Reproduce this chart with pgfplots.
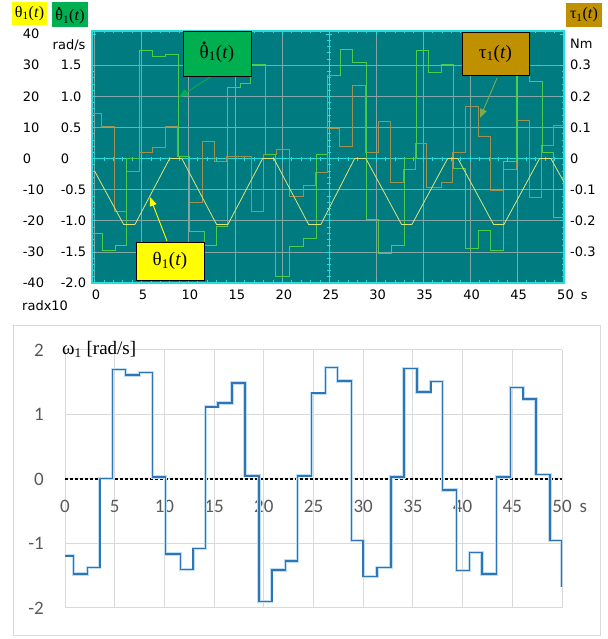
\documentclass[border=0pt]{standalone}
\usepackage{pgfplots}
\pgfplotsset{compat=1.18}
\usepackage{fontspec}
\setmainfont{DejaVu Sans}
\newfontfamily\tnr{Liberation Serif}
\newfontfamily\carl{Carlito}
\usetikzlibrary{arrows.meta}

\definecolor{scopebg}{RGB}{0,124,128}
\definecolor{scopecyan}{RGB}{40,220,220}
\definecolor{gridc}{RGB}{130,165,165}
\definecolor{thc}{RGB}{220,228,125}
\definecolor{thdc}{RGB}{75,205,75}
\definecolor{tauc}{RGB}{160,145,80}
\definecolor{hdyellow}{RGB}{255,255,0}
\definecolor{hdgreen}{RGB}{0,176,80}
\definecolor{hdtau}{RGB}{191,144,0}
\definecolor{wblue}{RGB}{46,117,182}
\definecolor{wglow}{RGB}{190,220,242}
\definecolor{lgray}{RGB}{217,217,217}
\definecolor{tgray}{RGB}{89,89,89}

\newcommand\yl[2]{\makebox[38pt][l]{#1}\makebox[29pt][l]{#2}}
\newcommand\thdot{\ooalign{θ\cr\hidewidth\raisebox{0.72em}{\scalebox{1.3}{.}}\hidewidth\cr}}
\newcommand\thl{θ\textsubscript{1}(\textit{t})}
\newcommand\thdl{\thdot\textsubscript{1}(\textit{t})}
\newcommand\taul{τ\textsubscript{1}(\textit{t})}

\pgfplotstableread{
t v
0 -0.20
3.1 -1.06
4.3 -1.06
8.0 0
9.3 0
13.0 -1.06
14.2 -1.06
17.9 0
19.1 0
22.8 -1.06
24.1 -1.06
27.7 0
28.9 0
32.7 -1.06
33.8 -1.06
37.6 0
38.7 0
42.5 -1.06
43.6 -1.06
47.4 0
48.6 0
50 -0.38
}\thetatab

\pgfplotstableread{
t v
-0.3 -1.20
0.87 -1.47
2.18 -1.39
3.42 0.0
4.77 1.74
6.15 1.64
7.6 1.67
8.9 0.04
10.16 -1.17
11.75 -1.40
12.96 -1.09
14.2 1.14
15.5 1.20
16.6 1.51
18.2 0.06
19.3 -1.89
20.8 -1.41
22.2 -1.28
23.6 0.06
24.8 1.34
26.2 1.76
27.5 1.54
29.0 -0.98
30.2 -1.53
31.6 -1.39
33.0 0.0
34.3 1.74
35.6 1.38
36.9 1.52
38.2 -0.16
39.5 -1.44
40.9 -1.15
42.2 -1.47
43.6 -0.05
44.9 1.39
46.3 1.24
47.7 0.09
48.9 -0.95
50 -0.95
}\thdtab

\pgfplotstableread{
t v
-0.3 0.73
0.76 0.52
2.07 -0.85
3.42 -0.21
4.77 0.09
6.19 0.18
7.5 0.51
8.8 0.04
10.16 -0.70
11.5 0.28
12.8 -0.04
14.1 0.03
16.7 -0.85
18.0 0.06
19.4 0.14
20.8 -0.61
22.2 -0.44
23.5 -0.22
24.8 0.48
26.1 0.20
27.5 1.17
28.9 0.10
30.2 0.59
31.5 -0.39
32.9 -0.18
34.2 0.25
35.4 -0.47
36.9 -0.39
38.1 0.09
39.5 0.83
40.9 0.35
42.2 -0.51
43.6 -0.17
44.9 0.62
46.3 -0.62
47.6 0.21
48.9 0.53
50 0.53
}\tautab

\pgfplotstableread{
t v
0 -1.19
0.84 -1.47
2.25 -1.37
3.5 0.01
4.8 1.70
6.1 1.61
7.5 1.65
8.8 0.03
10.1 -1.16
11.6 -1.40
12.9 -1.08
14.15 1.12
15.4 1.18
16.8 1.49
18.1 0.05
19.5 -1.90
20.8 -1.41
22.2 -1.27
23.4 0.05
24.8 1.33
26.2 1.73
27.4 1.52
28.8 -0.95
30.0 -1.51
31.4 -1.37
32.8 0.03
34.1 1.71
35.4 1.35
36.8 1.51
38.0 -0.17
39.4 -1.42
40.7 -1.14
41.95 -1.47
43.4 0.03
44.8 1.42
46.1 1.24
47.4 0.07
48.8 -0.95
50.0 -1.67
}\omegatab

\begin{document}
\begin{tikzpicture}[x=1pt,y=1pt]
\path[use as bounding box] (0,0) rectangle (607,639);

% ---------- top scope: background, grid, border, left and bottom labels
\begin{axis}[
  at={(92pt,356pt)}, anchor=south west, scale only axis,
  width=472pt, height=252pt,
  xmin=-0.27, xmax=50, ymin=-2, ymax=2.05,
  axis background/.style={fill=scopebg},
  axis line style={scopecyan, line width=1.6pt},
  xtick pos=both, ytick pos=both,
  xticklabel pos=lower, yticklabel pos=left,
  xtick={0,5,...,50}, minor x tick num=4,
  ytick={-2,-1.5,...,1.5}, minor y tick num=4,
  extra y ticks={2}, extra y tick style={grid=none},
  extra y tick labels={\yl{40}{}},
  tick align=inside,
  tick style={scopecyan, line width=0.7pt},
  major tick length=4pt, minor tick length=2.5pt,
  grid=major, major grid style={gridc, line width=0.6pt},
  xticklabels={0,5,10,15,20,25,30,35,40,45,{50\rlap{\hspace{7pt}s}}},
  yticklabels={\yl{-40}{-2.0},\yl{-30}{-1.5},\yl{-20}{-1.0},\yl{-10}{-0.5},
    \yl{0}{0},\yl{10}{0.5},\yl{20}{1.0},\yl{30}{1.5}},
  ticklabel style={font=\fontsize{13}{13}\selectfont, text=black},
  xticklabel style={inner sep=0pt, anchor=north, yshift=-7pt, xshift=1.5pt},
  yticklabel style={inner sep=0pt, anchor=east, xshift=-2pt},
]
\end{axis}

% ---------- top scope: central cross-hair with ticks
\begin{axis}[
  at={(92pt,356pt)}, anchor=south west, scale only axis,
  width=472pt, height=252pt,
  xmin=-25.27, xmax=25, ymin=-2, ymax=2.05,
  axis lines=middle,
  axis line style={scopecyan, line width=1.1pt, -},
  every inner x axis line/.append style={-},
  every inner y axis line/.append style={-},
  hide obscured x ticks=false, hide obscured y ticks=false,
  xtick={-25,-20,...,25}, minor x tick num=4,
  ytick={-2,-1.5,...,2}, minor y tick num=4,
  xticklabels={}, yticklabels={},
  tick align=center,
  tick style={scopecyan, line width=0.7pt},
  major tick length=6pt, minor tick length=4pt,
]
\end{axis}

% ---------- top scope: data and right labels
\begin{axis}[
  at={(92pt,356pt)}, anchor=south west, scale only axis,
  width=472pt, height=252pt,
  xmin=-0.27, xmax=50, ymin=-2, ymax=2.05,
  axis line style={draw=none},
  xtick=\empty,
  ytick={-1.5,-1,...,1.5},
  yticklabels={-0.3,-0.2,-0.1,0,0.1,0.2,0.3},
  ytick pos=right, yticklabel pos=right,
  ytick style={draw=none},
  ticklabel style={font=\fontsize{13}{13}\selectfont, text=black},
  yticklabel style={anchor=west, inner sep=0pt, xshift=6pt},
]
\addplot[const plot, tauc, line width=0.9pt] table[x=t,y=v] {\tautab};
\addplot[const plot, thdc, line width=0.9pt] table[x=t,y=v] {\thdtab};
\addplot[thc, line width=0.8pt] table[x=t,y=v] {\thetatab};
\end{axis}

% labels around the top scope
\node[anchor=west, inner sep=0pt, font=\fontsize{13}{13}\selectfont] at (52.5,594.3) {rad/s};
\node[anchor=west, inner sep=0pt, font=\fontsize{13}{13}\selectfont] at (22,333) {radx10};
\node[anchor=west, inner sep=0pt, font=\fontsize{13}{13}\selectfont] at (570,595.5) {Nm};

% header boxes
\fill[hdyellow] (12,614) rectangle (47,637);
\node[inner sep=0pt, font=\tnr\fontsize{16}{16}\selectfont] at (29.5,625.5) {\thl};
\fill[hdgreen] (52,612) rectangle (88,637);
\node[inner sep=0pt, font=\tnr\fontsize{16}{16}\selectfont] at (70,622.3) {\thdl};
\fill[hdtau] (566,612) rectangle (602,636);
\node[inner sep=0pt, font=\tnr\fontsize{16}{16}\selectfont] at (584,624) {\taul};

% annotation boxes and arrows
\draw[hdgreen, line width=0.9pt, -{Triangle[length=9pt,width=7pt]}] (212,563) -- (179,542);
\draw[tauc!60!thdc, line width=0.9pt, -{Triangle[length=9pt,width=7pt]}] (497,561) -- (480,521);
\draw[hdyellow, line width=0.9pt, -{Triangle[length=9pt,width=7pt]}] (167,398) -- (150,442);
\node[fill=hdgreen, draw=black, line width=0.8pt, inner sep=0pt, minimum width=68pt,
  minimum height=45pt, font=\tnr\fontsize{19}{19}\selectfont] at (217,585.5) {\thdl};
\node[fill=hdtau, draw=black, line width=0.8pt, inner sep=0pt, minimum width=67pt,
  minimum height=43pt, font=\tnr\fontsize{19}{19}\selectfont] at (495.5,585.5) {\taul};
\node[fill=hdyellow, draw=black, line width=0.8pt, inner sep=0pt, minimum width=68pt,
  minimum height=38pt, font=\tnr\fontsize{19}{19}\selectfont] at (170,378) {\thl};

% ---------- bottom chart
\draw[lgray, line width=0.9pt] (13,4) rectangle (600,314);
\begin{axis}[
  at={(65pt,31pt)}, anchor=south west, scale only axis,
  width=497pt, height=258pt,
  xmin=0, xmax=50, ymin=-2, ymax=2,
  clip mode=individual,
  axis line style={draw=none},
  xtick={0,5,...,50}, ytick={-2,-1,...,2},
  tick style={draw=none},
  grid=major, major grid style={lgray, line width=1pt},
  xticklabels={0,5,10,15,20,25,30,35,40,45,{50\rlap{\hspace{8pt}s}}},
  yticklabels={-2,-1,0,1,2},
  ticklabel style={font=\carl\fontsize{19}{19}\selectfont, text=tgray},
  xticklabel style={anchor=center, inner sep=0pt, yshift=102pt},
  yticklabel style={anchor=east, inner sep=0pt, xshift=-21pt},
]
\addplot[black, line width=1.1pt, dash pattern=on 3pt off 2pt] coordinates {(0,0) (50,0)};
\addplot[const plot, wglow, line width=3.4pt] table[x=t,y=v] {\omegatab};
\addplot[const plot, wblue, line width=1.5pt] table[x=t,y=v] {\omegatab};
\node[anchor=base west, inner sep=0pt, xshift=-3pt, yshift=-5pt,
  font=\tnr\fontsize{19}{19}\selectfont] at (axis cs:0,2) {ω\textsubscript{1} [rad/s]};
\end{axis}
\end{tikzpicture}
\end{document}
